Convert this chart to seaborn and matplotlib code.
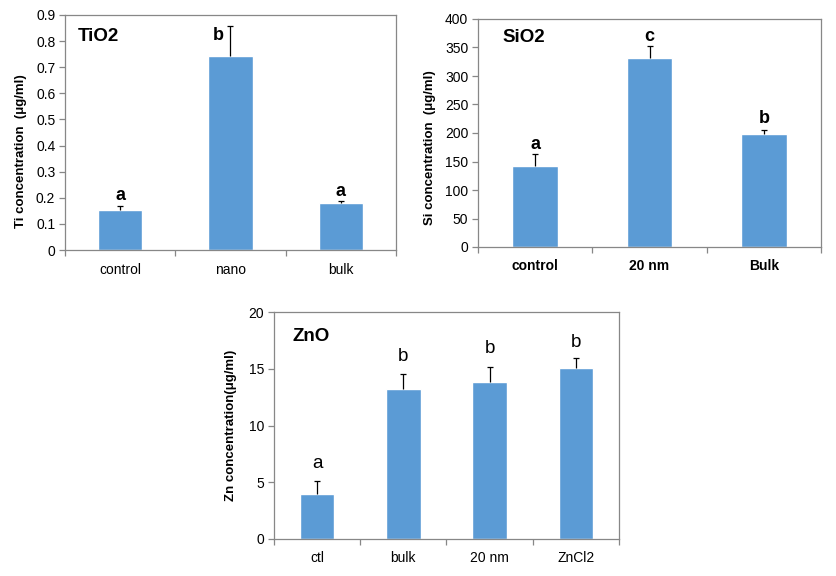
import numpy as np
import pandas as pd
import matplotlib
matplotlib.use("Agg")
import matplotlib.pyplot as plt
import seaborn as sns

# ── Data ──────────────────────────────────────────────────────────────────────
ti_groups = ["control", "nano", "bulk"]
ti_means = [0.153, 0.742, 0.180]
ti_err = [0.017, 0.115, 0.007]
ti_letters = ["a", "b", "a"]

si_groups = ["control", "20 nm", "Bulk"]
si_means = [142.7, 332.0, 198.8]
si_err = [20.5, 20.5, 6.5]
si_letters = ["a", "c", "b"]

zn_groups = ["ctl", "bulk", "20 nm", "ZnCl2"]
zn_means = [4.0, 13.2, 13.8, 15.05]
zn_err = [1.1, 1.3, 1.35, 0.88]
zn_letters = ["a", "b", "b", "b"]

# ── Style ─────────────────────────────────────────────────────────────────────
BAR_COL = "#5B9BD5"
FRAME = "#878787"
W, H = 837, 576

sns.set_theme(style="white")
plt.rcParams["font.family"] = ["Liberation Sans", "DejaVu Sans"]


def px_axes(fig, left, top, right, bottom):
    return fig.add_axes([left / W, 1 - bottom / H, (right - left) / W, (bottom - top) / H])


def panel(ax, groups, means, err, letters, ymax, ystep, title, ylabel,
          title_xy, ylabel_xy, letter_bold, letter_size, letter_offsets,
          xtick_bold=False):
    df = pd.DataFrame({"group": groups, "value": means})
    sns.barplot(data=df, x="group", y="value", color=BAR_COL, width=0.4,
                errorbar=None, saturation=1, ax=ax)
    x = np.arange(len(groups))
    _, caps, _ = ax.errorbar(x, means, yerr=[np.zeros(len(err)), err], fmt="none",
                             ecolor="black", elinewidth=0.9, capsize=2.2,
                             capthick=0.9, zorder=5)
    caps[0].set_visible(False)  # plus-only error bars, like Excel

    for i, (lab, m, e) in enumerate(zip(letters, means, err)):
        dx, dy = letter_offsets[i]
        ax.annotate(lab, xy=(i, m + e), xytext=(dx, dy), textcoords="offset points",
                    ha="center", va="center", fontsize=letter_size,
                    fontweight="bold" if letter_bold else "normal", color="black")

    ax.set_xlim(-0.5, len(groups) - 0.5)
    ax.set_ylim(0, ymax)
    yt = np.arange(0, ymax + ystep / 2, ystep)
    ax.set_yticks(yt)
    ax.set_yticklabels([f"{v:g}" for v in yt])

    # Excel-style category ticks between bars, labels at centers
    ax.set_xticks(np.arange(-0.5, len(groups), 1.0))
    ax.set_xticklabels([])
    ax.set_xticks(x, minor=True)
    ax.set_xticklabels(groups, minor=True, fontsize=10,
                       fontweight="bold" if xtick_bold else "normal")
    ax.tick_params(axis="x", which="major", direction="out", length=4, width=0.9,
                   color=FRAME, bottom=True)
    ax.tick_params(axis="x", which="minor", length=0, pad=9, labelcolor="black")
    ax.tick_params(axis="y", direction="out", length=4, width=0.9, color=FRAME,
                   left=True, labelsize=10, labelcolor="black", pad=3)

    for s in ax.spines.values():
        s.set_visible(True)
        s.set_color(FRAME)
        s.set_linewidth(0.9)

    ax.set_xlabel("")
    ax.set_ylabel(ylabel, fontsize=9.5, fontweight="bold", color="black")
    ax.yaxis.set_label_coords(*ylabel_xy)
    ax.text(title_xy[0], title_xy[1], title, transform=ax.transAxes, ha="left",
            va="center", fontsize=13.5, fontweight="bold", color="black")


fig = plt.figure(figsize=(W / 100, H / 100), dpi=100)
fig.patch.set_facecolor("white")

ax1 = px_axes(fig, 65, 15, 396, 250)
panel(ax1, ti_groups, ti_means, ti_err, ti_letters, 0.9, 0.1, "TiO2",
      "Ti concentration  (\u03bcg/ml)", (0.04, 0.91), (-0.115, 0.42),
      True, 13, [(0, 7), (-8.5, -7), (0, 7)])

ax2 = px_axes(fig, 478, 19, 821, 247)
panel(ax2, si_groups, si_means, si_err, si_letters, 400, 50, "SiO2",
      "Si concentration  (\u03bcg/ml)", (0.07, 0.917), (-0.122, 0.434),
      True, 13, [(0, 7), (0, 7), (0, 8.5)], xtick_bold=True)

ax3 = px_axes(fig, 274, 312, 619, 539)
panel(ax3, zn_groups, zn_means, zn_err, zn_letters, 20, 5, "ZnO",
      "Zn concentration(\u03bcg/ml)", (0.055, 0.89), (-0.107, 0.5),
      False, 13.5, [(0, 12.5), (0, 13), (0, 13), (0, 11.5)])

fig.savefig("out.png", dpi=100, facecolor="white")
